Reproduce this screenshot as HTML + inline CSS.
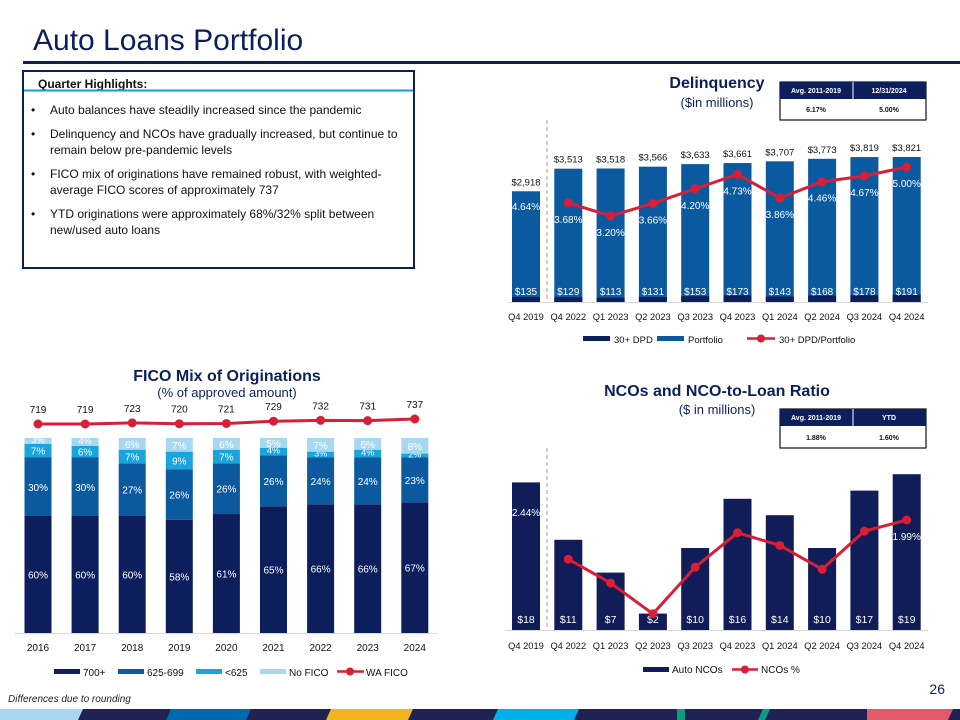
<!DOCTYPE html>
<html><head><meta charset="utf-8">
<style>
body{margin:0;width:960px;height:720px;overflow:hidden;background:#fff;font-family:"Liberation Sans",sans-serif;}
svg{position:absolute;left:0;top:0}
text{font-family:"Liberation Sans",sans-serif}
</style></head>
<body>
<svg id="s" width="960" height="720" viewBox="0 0 960 720" xmlns="http://www.w3.org/2000/svg">
<text x="33" y="50" font-size="30" fill="#0c1f5c">Auto Loans Portfolio</text>
<rect x="23" y="61" width="937" height="3" fill="#0c1f5c"/>
<g>
<rect x="23" y="71" width="391" height="197" fill="none" stroke="#0c1f5c" stroke-width="2"/>
<text x="38" y="88" font-size="12" font-weight="bold" fill="#111">Quarter Highlights:</text>
<rect x="24" y="89.5" width="389" height="2" fill="#1a9ad6"/>
<g font-size="12" fill="#111">
<text x="31" y="114">•</text><text x="50" y="114">Auto balances have steadily increased since the pandemic</text>
<text x="31" y="138">•</text><text x="50" y="138">Delinquency and NCOs have gradually increased, but continue to</text>
<text x="50" y="154">remain below pre-pandemic levels</text>
<text x="31" y="178">•</text><text x="50" y="178">FICO mix of originations have remained robust, with weighted-</text>
<text x="50" y="194">average FICO scores of approximately 737</text>
<text x="31" y="218">•</text><text x="50" y="218">YTD originations were approximately 68%/32% split between</text>
<text x="50" y="234">new/used auto loans</text>
</g></g>

<text x="717" y="88" font-size="16" font-weight="bold" fill="#0c1f5c" text-anchor="middle">Delinquency</text>
<text x="717" y="107" font-size="13" fill="#0c1f5c" text-anchor="middle">($in millions)</text>
<g>
<rect x="780" y="82" width="146" height="38" fill="#fff" stroke="#111" stroke-width="1.2"/>
<rect x="780" y="82" width="146" height="17" fill="#0c1f5c"/>
<line x1="853" y1="82" x2="853" y2="99" stroke="#fff"/>
<g font-size="7" font-weight="bold" text-anchor="middle"><text x="816" y="93" fill="#fff">Avg. 2011-2019</text><text x="889" y="93" fill="#fff">12/31/2024</text>
<text x="816" y="112" fill="#111">6.17%</text><text x="889" y="112" fill="#111">5.00%</text></g></g>
<g id="del"></g>

<text x="227" y="381" font-size="16" font-weight="bold" fill="#0c1f5c" text-anchor="middle">FICO Mix of Originations</text>
<text x="227" y="397" font-size="13" fill="#0c1f5c" text-anchor="middle">(% of approved amount)</text>
<g id="fico"></g>

<text x="717" y="396" font-size="16" font-weight="bold" fill="#0c1f5c" text-anchor="middle">NCOs and NCO-to-Loan Ratio</text>
<text x="717" y="414" font-size="13" fill="#0c1f5c" text-anchor="middle">($ in millions)</text>
<g>
<rect x="780" y="409" width="146" height="39" fill="#fff" stroke="#111" stroke-width="1.2"/>
<rect x="780" y="409" width="146" height="17" fill="#0c1f5c"/>
<line x1="853" y1="409" x2="853" y2="426" stroke="#fff"/>
<g font-size="7" font-weight="bold" text-anchor="middle"><text x="816" y="420" fill="#fff">Avg. 2011-2019</text><text x="889" y="420" fill="#fff">YTD</text>
<text x="816" y="440" fill="#111">1.88%</text><text x="889" y="440" fill="#111">1.60%</text></g></g>
<g id="nco"></g>

<text x="945" y="694" font-size="14" fill="#0c1f5c" text-anchor="end">26</text>
<text x="8" y="702" font-size="10" font-style="italic" fill="#222">Differences due to rounding</text>
<g>
<rect x="0" y="709" width="960" height="11" fill="#1e2352"/>
<polygon points="0,709 83,709 78,720 0,720" fill="#a8d8f2"/>
<polygon points="171,709 251,709 246,720 166,720" fill="#0067b1"/>
<polygon points="331,709 413,709 408,720 326,720" fill="#f2b41c"/>
<polygon points="498,709 579,709 574,720 493,720" fill="#00b0ea"/>
<rect x="677" y="709" width="8" height="11" fill="#0a9e80"/>
<polygon points="763,709 770,709 765,720 758,720" fill="#0a9e80"/>
<polygon points="867,709 953,709 948,720 867,720" fill="#e35a6a"/>
</g>
</svg>
<script>
const delCats=["Q4 2019","Q4 2022","Q1 2023","Q2 2023","Q3 2023","Q4 2023","Q1 2024","Q2 2024","Q3 2024","Q4 2024"];
const delPortfolio=[2918,3513,3518,3566,3633,3661,3707,3773,3819,3821];
const delDPD=[135,129,113,131,153,173,143,168,178,191];
const delRate=[4.64,3.68,3.20,3.66,4.20,4.73,3.86,4.46,4.67,5.00];
const ficoYears=["2016","2017","2018","2019","2020","2021","2022","2023","2024"];
const fico700=[60,60,60,58,61,65,66,66,67];
const fico625=[30,30,27,26,26,26,24,24,23];
const ficoLow=[7,6,7,9,7,4,3,4,2];
const ficoNone=[3,4,6,7,6,5,7,6,8];
const ficoWA=[719,719,723,720,721,729,732,731,737];
const ncoCats=["Q4 2019","Q4 2022","Q1 2023","Q2 2023","Q3 2023","Q4 2023","Q1 2024","Q2 2024","Q3 2024","Q4 2024"];
const ncoAmt=[18,11,7,2,10,16,14,10,17,19];
const ncoRate=[2.44,1.25,0.80,0.22,1.10,1.75,1.51,1.06,1.78,1.99];

const NS="http://www.w3.org/2000/svg";
function mk(p,tag,a,txt){const e=document.createElementNS(NS,tag);for(const k in a)e.setAttribute(k,a[k]);if(txt!==undefined)e.textContent=txt;p.appendChild(e);return e;}
const RED="#d91e36",NAVY="#0c1f5c",BLUE="#0b5aa0";

// Delinquency
(function(){
const g=document.getElementById('del');
const x=i=>526+i*42.3, y=v=>302-v*0.03795, yr=v=>167+(5-v)*27.2;
mk(g,'line',{x1:508,y1:302.5,x2:928,y2:302.5,stroke:"#d9d9d9"});
const d=mk(g,'line',{x1:547,y1:120,x2:547,y2:302,stroke:"#999","stroke-dasharray":"4,3"});

delCats.forEach((c,i)=>{
 const b=mk(g,'rect',{x:x(i)-14,y:y(delPortfolio[i]),width:28,height:302-y(delPortfolio[i]),fill:BLUE});
 
 const k=mk(g,'rect',{x:x(i)-14,y:y(delDPD[i]),width:28,height:302-y(delDPD[i]),fill:NAVY});
 
 mk(g,'text',{x:x(i),y:y(delPortfolio[i])-6,"font-size":9.5,"text-anchor":"middle",fill:"#111"},"$"+delPortfolio[i].toLocaleString('en-US'));
 mk(g,'text',{x:x(i),y:295,"font-size":10,"text-anchor":"middle",fill:"#fff"},"$"+delDPD[i]);
 const t=mk(g,'text',{x:x(i),y:320,"font-size":9.3,"text-anchor":"middle",fill:"#111"},c);
 
 const ly=i===0?yr(delRate[i])+33:yr(delRate[i])+20;
 mk(g,'text',{x:x(i),y:ly,"font-size":10,"text-anchor":"middle",fill:"#fff"},delRate[i].toFixed(2)+"%");
});
let pts=delRate.slice(1).map((v,j)=>x(j+1)+","+yr(v)).join(" ");
const pl=mk(g,'polyline',{points:pts,fill:"none",stroke:RED,"stroke-width":3});

delRate.forEach((v,i)=>{if(i>0){const c=mk(g,'circle',{cx:x(i),cy:yr(v),r:4.5,fill:RED});}});
const L=mk(g,'g',{});
mk(L,'rect',{x:583,y:336,width:27,height:5,fill:NAVY});mk(L,'text',{x:614,y:343,"font-size":9.5,fill:"#111"},"30+ DPD");
mk(L,'rect',{x:657,y:336,width:27,height:5,fill:BLUE});mk(L,'text',{x:688,y:343,"font-size":9.5,fill:"#111"},"Portfolio");
mk(L,'line',{x1:747,y1:338.5,x2:775,y2:338.5,stroke:RED,"stroke-width":2.5});mk(L,'circle',{cx:761,cy:338.5,r:4,fill:RED});
mk(L,'text',{x:779,y:343,"font-size":9.5,fill:"#111"},"30+ DPD/Portfolio");
})();

// FICO
(function(){
const g=document.getElementById('fico');
const x=i=>38+i*47.1, h=v=>v*1.95, base=633, yw=v=>424-(v-719)*0.28;
mk(g,'line',{x1:15,y1:633.5,x2:438,y2:633.5,stroke:"#d9d9d9"});
const series=[[fico700,NAVY,'fico-700-bar'],[fico625,BLUE,'fico-625-699-bar'],[ficoLow,"#1ba3dc",'fico-under-625-bar'],[ficoNone,"#a7d8f0",'no-fico-bar']];
ficoYears.forEach((yrr,i)=>{
 let cum=0;
 series.forEach(s=>{const v=s[0][i];const top=base-h(cum+v);
  const r=mk(g,'rect',{x:x(i)-13.5,y:top,width:27,height:h(v),fill:s[1]});
  
  mk(g,'text',{x:x(i),y:top+h(v)/2+(v<=4?2:4),"font-size":v<=4?9:10,"text-anchor":"middle",fill:"#fff"},v+"%");
  cum+=v;});
 const t=mk(g,'text',{x:x(i),y:651,"font-size":10,"text-anchor":"middle",fill:"#111"},yrr);
 
 mk(g,'text',{x:x(i),y:yw(ficoWA[i])-11,"font-size":10,"text-anchor":"middle",fill:"#111"},ficoWA[i]);
});
const pl=mk(g,'polyline',{points:ficoWA.map((v,i)=>x(i)+","+yw(v)).join(" "),fill:"none",stroke:RED,"stroke-width":3});

ficoWA.forEach((v,i)=>{const c=mk(g,'circle',{cx:x(i),cy:yw(v),r:4.5,fill:RED});});
const L=mk(g,'g',{});
const items=[[54,NAVY,"700+"],[118,BLUE,"625-699"],[196,"#1ba3dc","<625"],[260,"#a7d8f0","No FICO"]];
items.forEach(it=>{mk(L,'rect',{x:it[0],y:669,width:26,height:5,fill:it[1]});mk(L,'text',{x:it[0]+29,y:676,"font-size":10,fill:"#111"},it[2]);});
mk(L,'line',{x1:337,y1:671.5,x2:364,y2:671.5,stroke:RED,"stroke-width":2.5});mk(L,'circle',{cx:350,cy:671.5,r:4,fill:RED});
mk(L,'text',{x:366,y:676,"font-size":10,fill:"#111"},"WA FICO");
})();

// NCO
(function(){
const g=document.getElementById('nco');
const x=i=>526+i*42.3, y=v=>630-v*8.2, yr=v=>520-(v-1.99)*53;
mk(g,'line',{x1:505,y1:630.5,x2:928,y2:630.5,stroke:"#d9d9d9"});
const d=mk(g,'line',{x1:547,y1:448,x2:547,y2:630,stroke:"#999","stroke-dasharray":"4,3"});

ncoCats.forEach((c,i)=>{
 const b=mk(g,'rect',{x:x(i)-14,y:y(ncoAmt[i]),width:28,height:630-y(ncoAmt[i]),fill:"#101d58"});
 
 mk(g,'text',{x:x(i),y:623,"font-size":10.5,"text-anchor":"middle",fill:"#fff"},"$"+ncoAmt[i]);
 const t=mk(g,'text',{x:x(i),y:649,"font-size":9.3,"text-anchor":"middle",fill:"#111"},c);
 
 if(i===0||i===ncoCats.length-1) mk(g,'text',{x:x(i),y:yr(ncoRate[i])+20,"font-size":10,"text-anchor":"middle",fill:"#fff"},ncoRate[i].toFixed(2)+"%");
});
const pl=mk(g,'polyline',{points:ncoRate.slice(1).map((v,j)=>x(j+1)+","+yr(v)).join(" "),fill:"none",stroke:RED,"stroke-width":3});

ncoRate.forEach((v,i)=>{if(i>0){const c=mk(g,'circle',{cx:x(i),cy:yr(v),r:4.5,fill:RED});}});
const L=mk(g,'g',{});
mk(L,'rect',{x:643,y:667,width:26,height:5,fill:"#101d58"});mk(L,'text',{x:672,y:673,"font-size":10,fill:"#111"},"Auto NCOs");
mk(L,'line',{x1:732,y1:669.5,x2:758,y2:669.5,stroke:RED,"stroke-width":2.5});mk(L,'circle',{cx:745,cy:669.5,r:4,fill:RED});
mk(L,'text',{x:761,y:673,"font-size":10,fill:"#111"},"NCOs %");
})();
</script>
</body></html>
